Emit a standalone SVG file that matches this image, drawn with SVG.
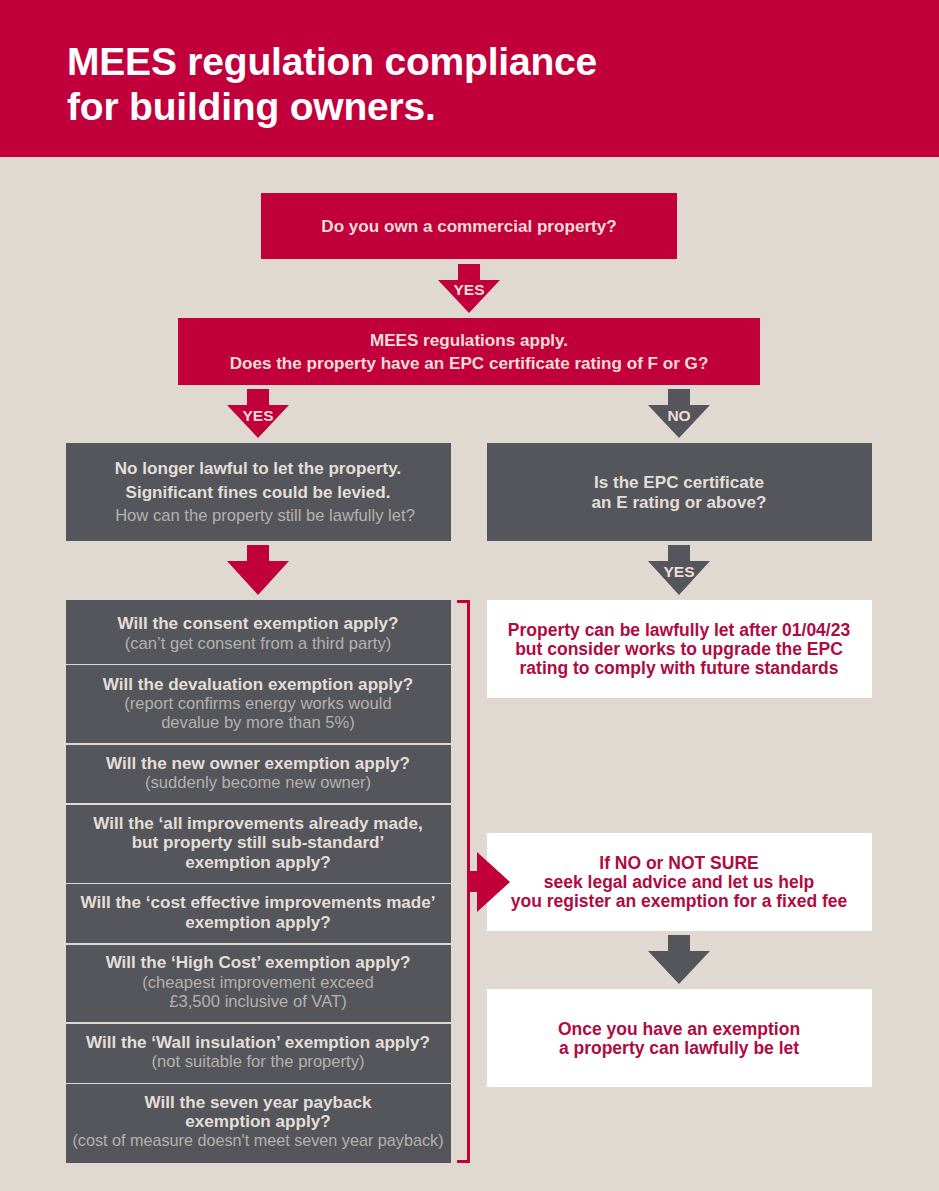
<svg xmlns="http://www.w3.org/2000/svg" width="939" height="1191" viewBox="0 0 939 1191">
<style>
text{font-family:"Liberation Sans",Arial,sans-serif;text-anchor:middle}
.t{font-size:39px;font-weight:700;fill:#fff;text-anchor:start;letter-spacing:-.2px}
.b{font-size:17.1px;font-weight:700}
.l{font-size:16.6px;fill:#b5b1ad}
.c{fill:#c1003b}.g{fill:#55565b}.w{fill:#fff}
.tl{fill:#f0dcd8}.tg{fill:#e3ded8}.tc{fill:#b10a42;font-size:17.5px}
.a{font-size:15.5px;font-weight:700;fill:#f0dcd8}
</style>
<rect width="939" height="1191" fill="#dfd9d2"/>
<rect class="c" width="939" height="157"/>
<text class="t" x="67" y="75">MEES regulation compliance</text>
<text class="t" x="67" y="120">for building owners.</text>
<g id="n1"><rect class="c" x="261" y="193" width="416" height="66"/><text class="b tl" x="469" y="232">Do you own a commercial property?</text></g>
<g id="n2"><rect class="c" x="178" y="318" width="582" height="67"/><text class="b tl" x="469" y="346">MEES regulations apply.</text><text class="b tl" x="469" y="369">Does the property have an EPC certificate rating of F or G?</text></g>
<g id="n3"><rect class="g" x="66" y="443" width="385" height="98"/><text class="b tg" x="258" y="474">No longer lawful to let the property.</text><text class="b tg" x="258" y="498">Significant fines could be levied.</text><text class="l" x="265" y="521">How can the property still be lawfully let?</text></g>
<g id="n4"><rect class="g" x="487" y="443" width="385" height="98"/><text class="b tg" x="679" y="488">Is the EPC certificate</text><text class="b tg" x="679" y="508">an E rating or above?</text></g>
<g id="r1"><rect class="g" x="66" y="600" width="385" height="64"/><text class="b tg" x="258" y="629">Will the consent exemption apply?</text><text class="l" x="258" y="649">(can’t get consent from a third party)</text></g>
<g id="r2"><rect class="g" x="66" y="665" width="385" height="78"/><text class="b tg" x="258" y="690">Will the devaluation exemption apply?</text><text class="l" x="258" y="709">(report confirms energy works would</text><text class="l" x="258" y="728">devalue by more than 5%)</text></g>
<g id="r3"><rect class="g" x="66" y="745" width="385" height="58"/><text class="b tg" x="258" y="769">Will the new owner exemption apply?</text><text class="l" x="258" y="788">(suddenly become new owner)</text></g>
<g id="r4"><rect class="g" x="66" y="805" width="385" height="78"/><text class="b tg" x="258" y="829">Will the ‘all improvements already made,</text><text class="b tg" x="258" y="848">but property still sub-standard’</text><text class="b tg" x="258" y="868">exemption apply?</text></g>
<g id="r5"><rect class="g" x="66" y="884" width="385" height="59"/><text class="b tg" x="258" y="908">Will the ‘cost effective improvements made’</text><text class="b tg" x="258" y="928">exemption apply?</text></g>
<g id="r6"><rect class="g" x="66" y="945" width="385" height="77"/><text class="b tg" x="258" y="968">Will the ‘High Cost’ exemption apply?</text><text class="l" x="258" y="988">(cheapest improvement exceed</text><text class="l" x="258" y="1007">£3,500 inclusive of VAT)</text></g>
<g id="r7"><rect class="g" x="66" y="1024" width="385" height="59"/><text class="b tg" x="258" y="1048">Will the ‘Wall insulation’ exemption apply?</text><text class="l" x="258" y="1067">(not suitable for the property)</text></g>
<g id="r8"><rect class="g" x="66" y="1084" width="385" height="79"/><text class="b tg" x="258" y="1108">Will the seven year payback</text><text class="b tg" x="258" y="1127">exemption apply?</text><text class="l" x="258" y="1146" style="font-size:16.2px">(cost of measure doesn't meet seven year payback)</text></g>
<g id="w1"><rect class="w" x="487" y="600" width="385" height="98"/><text class="b tc" x="679" y="636">Property can be lawfully let after 01/04/23</text><text class="b tc" x="679" y="655">but consider works to upgrade the EPC</text><text class="b tc" x="679" y="674">rating to comply with future standards</text></g>
<g id="w2"><rect class="w" x="487" y="833" width="385" height="98"/><text class="b tc" x="679" y="869">If NO or NOT SURE</text><text class="b tc" x="679" y="888">seek legal advice and let us help</text><text class="b tc" x="679" y="907">you register an exemption for a fixed fee</text></g>
<g id="w3"><rect class="w" x="487" y="989" width="385" height="98"/><text class="b tc" x="679" y="1035">Once you have an exemption</text><text class="b tc" x="679" y="1054">a property can lawfully be let</text></g>
<g id="connectors">
<path class="c" d="M458 264h22v16h20l-31 33-31-33h20z"/>
<path class="c" d="M247 389h22v16h20l-31 33-31-33h20z"/>
<path class="g" d="M668 389h22v16h20l-31 33-31-33h20z"/>
<path class="c" d="M247 545h22v16h20l-31 34-31-34h20z"/>
<path class="g" d="M668 545h22v16h20l-31 34-31-34h20z"/>
<path class="g" d="M668 935h22v16h20l-31 33-31-33h20z"/>
<path d="M457 601.500h11.500v560h-11.500" fill="none" stroke="#c1003b" stroke-width="3"/>
<path class="c" d="M468 871h9v-19l33 30-33 30v-20h-9z"/>
<text class="a" x="469" y="295">YES</text>
<text class="a" x="258" y="421">YES</text>
<text class="a" x="679" y="421">NO</text>
<text class="a" x="679" y="577">YES</text>
</g>
</svg>
